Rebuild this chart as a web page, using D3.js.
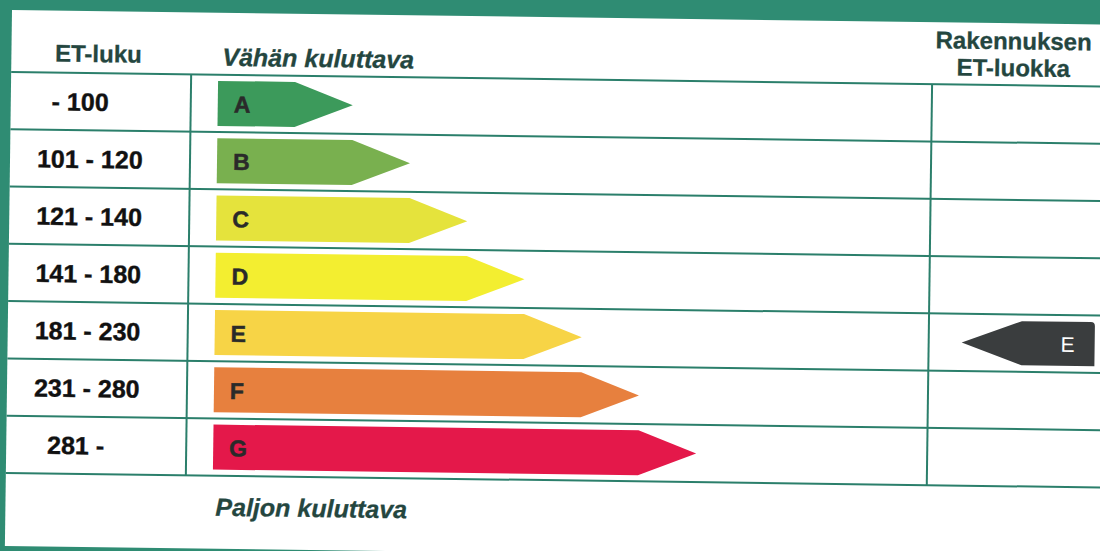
<!DOCTYPE html>
<meta charset="utf-8">
<title>ET-luokka</title>
<style>
  body { margin: 0; background: #2f8c73; }
  svg { display: block; font-family: "Liberation Sans", Arial, sans-serif; }
  .grid line { stroke: #2b7f6b; stroke-width: 2; }
  .head { fill: #24463f; font-weight: bold; font-size: 24px; stroke: #24463f; stroke-width: 0.3; }
  .range { fill: #111; font-weight: bold; font-size: 25px; white-space: pre; stroke: #111; stroke-width: 0.4; }
  .letter { fill: #2a2a2a; font-weight: bold; font-size: 23px; stroke: #2a2a2a; stroke-width: 0.5; }
</style>
<body>
<script src="https://cdn.jsdelivr.net/npm/d3@7"></script>
<script>
  var classes = ["A", "B", "C", "D", "E", "F", "G"];
  var ranges = ["  - 100", "101 - 120", "121 - 140", "141 - 180", "181 - 230", "231 - 280", "  281 -"];
  var colors = ["#3c9a5b", "#79b04f", "#e5e33c", "#f3ee30", "#f7d446", "#e7803e", "#e4184a"];
  var buildingClass = "E";
  var headLeft = "ET-luku", headTop = "Vähän kuluttava", headBottom = "Paljon kuluttava";
  var headRight = ["Rakennuksen", "ET-luokka"];

  var W = 1100, H = 551;

  var svg = d3.select("body").append("svg")
      .attr("width", W)
      .attr("height", H);

  // scanned sheet is a little tilted
  var g = svg.append("g")
      .attr("transform", "translate(12,10) rotate(0.76)");

  g.append("rect")
      .attr("width", 1200)
      .attr("height", 536)
      .attr("fill", "#fff");

  var y = d3.scaleBand()
      .domain(classes)
      .range([62, 463]);

  var tip = d3.scaleLinear()
      .domain([0, classes.length - 1])
      .range([342, 690]);

  var col1 = 180, col2 = 921, x0 = 207;
  var arrowH = 45, pointLen = 58;

  // grid
  var grid = g.append("g").attr("class", "grid");
  var rowLines = classes.map(function(c) { return y(c); }).concat([y.range()[1]]);
  grid.selectAll("line.h")
      .data(rowLines)
    .enter().append("line")
      .attr("class", "h")
      .attr("x1", 0).attr("x2", 1200)
      .attr("y1", function(d) { return d; })
      .attr("y2", function(d) { return d; });
  grid.selectAll("line.v")
      .data([col1, col2])
    .enter().append("line")
      .attr("class", "v")
      .attr("x1", function(d) { return d; })
      .attr("x2", function(d) { return d; })
      .attr("y1", y.range()[0])
      .attr("y2", y.range()[1]);

  // headers
  g.append("text").attr("class", "head")
      .attr("x", 87).attr("y", 51)
      .attr("text-anchor", "middle")
      .text(headLeft);
  g.append("text").attr("class", "head")
      .attr("x", 211).attr("y", 53)
      .style("font-style", "italic")
      .style("font-size", "25px")
      .text(headTop);
  g.append("text").attr("class", "head")
      .attr("x", 210).attr("y", 503)
      .style("font-style", "italic")
      .style("font-size", "25px")
      .text(headBottom);
  g.selectAll("text.rh")
      .data(headRight)
    .enter().append("text")
      .attr("class", "head rh")
      .attr("x", 1002)
      .attr("y", function(d, i) { return 26 + i * 27; })
      .attr("text-anchor", "middle")
      .text(function(d) { return d; });

  // range labels
  g.selectAll("text.range")
      .data(ranges)
    .enter().append("text")
      .attr("class", "range")
      .attr("x", 27)
      .attr("y", function(d, i) { return y(classes[i]) + y.bandwidth() / 2 + 9; })
      .text(function(d) { return d; });

  // class arrows
  var rows = g.selectAll("g.row")
      .data(classes)
    .enter().append("g")
      .attr("class", "row")
      .attr("transform", function(d) { return "translate(0," + (y(d) + y.bandwidth() / 2) + ")"; });

  rows.append("path")
      .attr("fill", function(d, i) { return colors[i]; })
      .attr("d", function(d, i) {
        var t = tip(i), h = arrowH / 2;
        return "M" + x0 + "," + (-h) + "L" + (t - pointLen) + "," + (-h) +
               "L" + t + ",0L" + (t - pointLen) + "," + h + "L" + x0 + "," + h + "Z";
      });

  rows.append("text")
      .attr("class", "letter")
      .attr("x", x0 + 16)
      .attr("y", 9)
      .text(function(d) { return d; });

  // building's own class marker
  var my = y(buildingClass) + y.bandwidth() / 2;
  var m = g.append("g").attr("transform", "translate(0," + my + ")");
  var mt = 954, mr = 1087, mh = 22;
  m.append("path")
      .attr("fill", "#3a3d3e")
      .attr("d", "M" + mt + ",0L" + (mt + 60) + "," + (-mh) + "L" + (mr - 4) + "," + (-mh) +
                 "Q" + mr + "," + (-mh) + " " + mr + "," + (-mh + 4) + "L" + mr + "," + mh +
                 "L" + (mt + 60) + "," + mh + "Z");
  m.append("text")
      .attr("x", 1060).attr("y", 8)
      .attr("text-anchor", "middle")
      .attr("fill", "#fff")
      .style("font-size", "21px")
      .text(buildingClass);
</script>
</body>
